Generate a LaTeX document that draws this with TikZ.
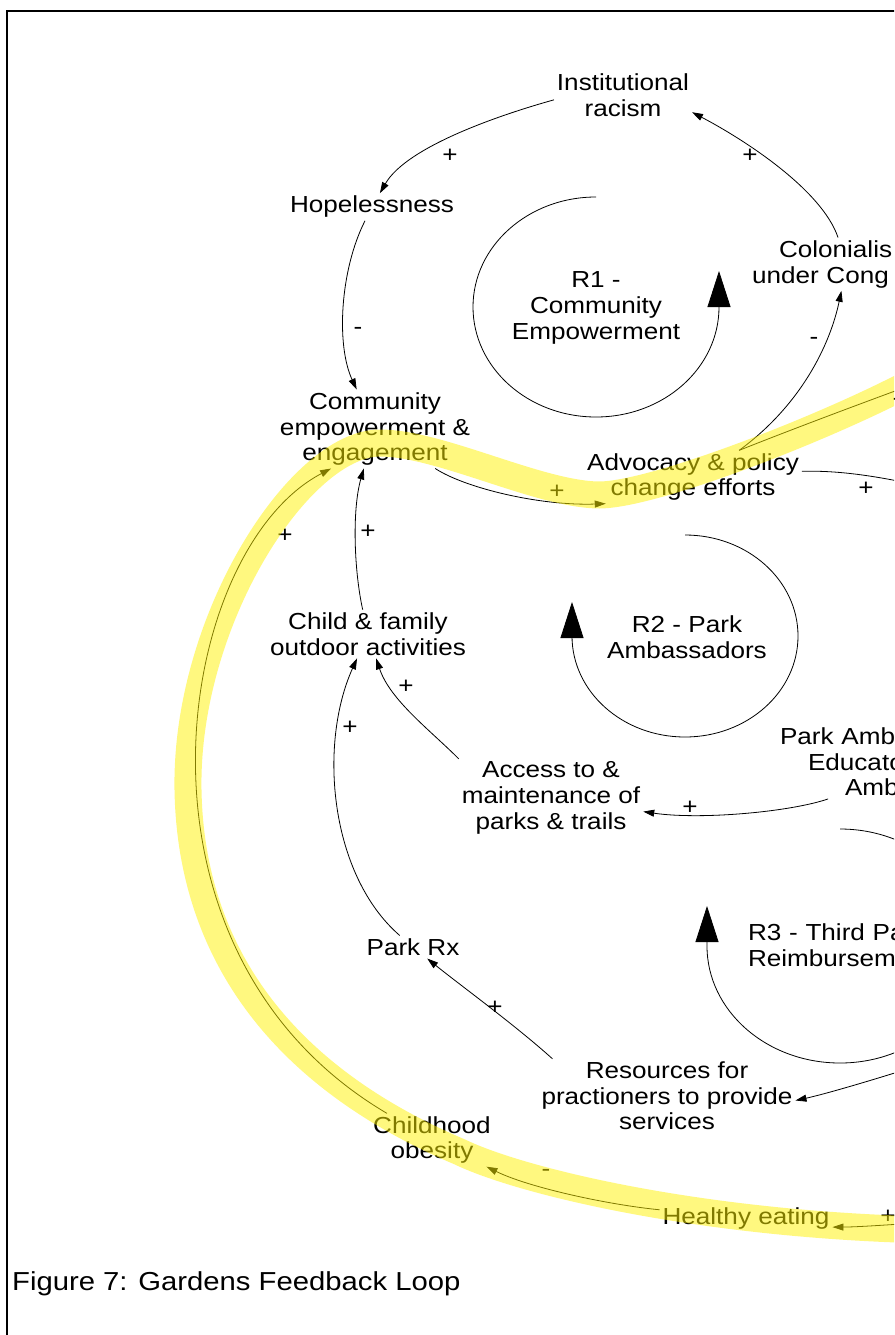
\documentclass[tikz,border=0pt]{standalone}
\usepackage{fontspec}
\setmainfont{Liberation Sans}[FakeStretch=1.125]
\usetikzlibrary{arrows.meta}

\begin{document}
\begin{tikzpicture}[x=1pt, y=-1pt,
  var/.style={inner sep=3pt, outer sep=0pt, align=center,
    font=\fontsize{23.2}{25.7}\selectfont},
  pol/.style={inner sep=0pt, font=\fontsize{23.2}{25.7}\selectfont},
  link/.style={line width=0.8pt, -{Triangle[length=11pt,width=7pt]}},
  loopsign/.style={line width=0.8pt, -{Triangle[length=36pt,width=23pt]}},
  glow/.style={line width=27pt, yellow, opacity=0.5, line cap=round, line join=round},
]
\useasboundingbox (0,0) rectangle (894,1335);
\clip (0,0) rectangle (894,1335);
\fill[white] (0,0) rectangle (894,1335);

% frame
\draw[line width=2pt] (7,1345) -- (7,11) -- (905,11);

% variables
\node[var] (inst) at (623,95) {Institutional\\racism};
\node[var] (hope) at (372,207) {Hopelessness};
\node[var, anchor=north west, align=left, text width=190pt] (colon) at (749,237.5)
  {\noindent\hspace*{27pt}Colonialis\\under Cong};
\node[var] (comm) at (375,429) {Community\\empowerment \&\\engagement};
\node[var] (adv) at (693,477) {Advocacy \& policy\\change efforts};
\node[var] (child) at (368,634) {Child \& family\\outdoor activities};
\node[var, anchor=north west, align=left, text width=220pt] (pamb) at (777,724.5)
  {\noindent Park Amb\\\hspace*{28pt}Educato\\\hspace*{65pt}Amb};
\node[var] (access) at (551,798) {Access to \&\\maintenance of\\parks \& trails};
\node[var] (parkrx) at (413,947) {Park Rx};
\node[var] (res) at (667,1096) {Resources for\\practioners to provide\\services};
\node[var] (obes) at (432,1140) {Childhood\\obesity};
\node[var] (healthy) at (746,1218) {Healthy eating};

% loop labels
\node[var] (r1) at (596,308) {R1 -\\Community\\Empowerment};
\node[var] (r2) at (687,637) {R2 - Park\\Ambassadors};
\node[var, anchor=north west, align=left, text width=200pt] (r3) at (745,920.5)
  {\noindent R3 - Third Pa\\Reimbursem};

% loop direction symbols
\draw[loopsign] (596,197) arc[start angle=270, end angle=0, x radius=123, y radius=110] -- ++(0,-36);
\draw[loopsign] (685,535) arc[start angle=270, end angle=540, x radius=113, y radius=101] -- ++(0,-34);
\draw[loopsign] (840,829) arc[start angle=270, end angle=540, x radius=133, y radius=117] -- ++(0,-40);

% far ends of links leaving the drawing
\coordinate (offA) at (960,367);
\coordinate (offB) at (980,500);
\coordinate (offC) at (960,1052);
\coordinate (offD) at (960,1220);

% causal links
\draw[link] (inst.184) .. controls (503,114) and (407,146) .. (hope);
\draw[link] (colon) .. controls (822,190) and (745,140) .. (inst.-14);
\draw[link] (hope) .. controls (340,270) and (336,345) .. (comm);
\draw[link] (adv.30) .. controls (801,405) and (830,345) .. (colon);
\draw[link] (adv.30) .. controls (813,421) and (887,394) .. (offA);
\draw[link] (adv.3.5) .. controls (850,470) and (900,480) .. (offB);
\draw[link] (comm) .. controls (465,488) and (540,506) .. (adv.197);
\draw[link] (child) .. controls (354,570) and (352,510) .. (comm);
\draw[link] (obes) .. controls (110,950) and (175,550) .. (comm.222);
\draw[link] (access.157) .. controls (430,730) and (390,700) .. (child);
\draw[link] (parkrx) .. controls (330,875) and (318,745) .. (child);
\draw[link] (pamb.211) .. controls (790,812) and (700,820) .. (access);
\draw[link] (res.162) .. controls (515,1025) and (460,985) .. (parkrx);
\draw[link] (offC) .. controls (900,1072) and (830,1093) .. (res.-2);
\draw[link] (offD) .. controls (900,1224) and (860,1227) .. (healthy.-6);
\draw[link] (healthy) .. controls (610,1205) and (530,1188) .. (obes);

% polarities
\node[pol] (s1) at (450,156) {+};
\node[pol] (s2) at (750,156) {+};
\node[pol] (s3) at (358,331) {-};
\node[pol] (s4) at (814,341) {-};
\node[pol] (s5) at (897,402) {-};
\node[pol] (s6) at (866,489) {+};
\node[pol] (s7) at (557,492) {+};
\node[pol] (s8) at (368,532) {+};
\node[pol] (s9) at (285,536) {+};
\node[pol] (s10) at (406,687) {+};
\node[pol] (s11) at (350,728) {+};
\node[pol] (s12) at (690,808) {+};
\node[pol] (s13) at (495,1008) {+};
\node[pol] (s14) at (546,1173) {-};
\node[pol] (s15) at (888,1217) {+};

% caption
\node[anchor=west, inner sep=0pt, font=\fontsize{26}{30}\selectfont] (cap) at (12,1284)
  {Figure 7: Gardens Feedback Loop};

% highlighted loop
\draw[glow] (930,372) .. controls (850,418) and (660,494) .. (600,495)
  .. controls (540,495) and (440,443) .. (380,443)
  .. controls (300,443) and (185,620) .. (188,790)
  .. controls (191,960) and (290,1080) .. (460,1152)
  .. controls (520,1181) and (700,1225) .. (930,1230);
\end{tikzpicture}
\end{document}
